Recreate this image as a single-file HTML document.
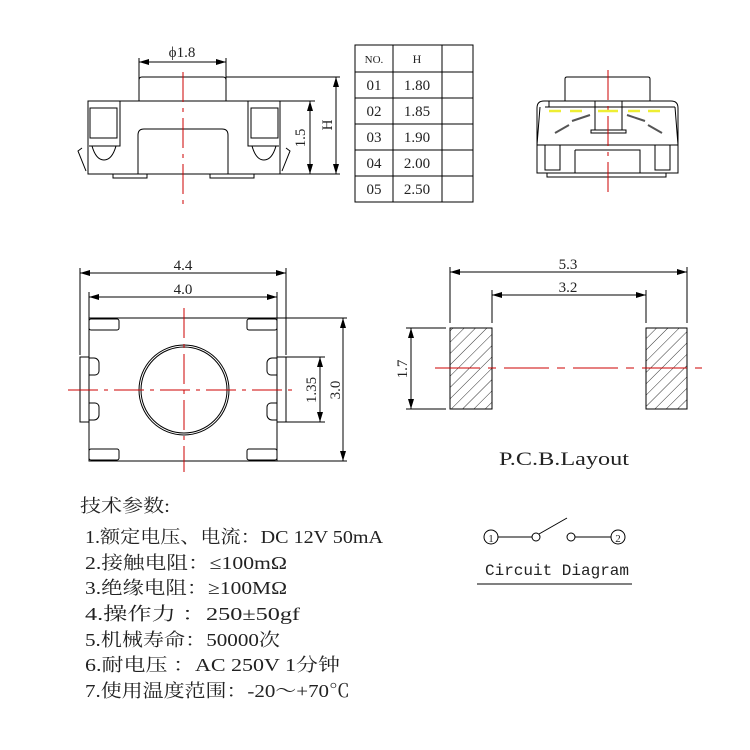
<!DOCTYPE html>
<html><head><meta charset="utf-8"><style>
html,body{margin:0;padding:0;background:#fff}
svg{display:block}
text{font-family:"Liberation Serif","Noto Serif CJK SC",serif;fill:#222}
.m{font-family:"Liberation Mono","Noto Serif CJK SC",monospace}
.c{font-family:"Liberation Sans","Noto Sans CJK SC",sans-serif}
</style></head><body>
<svg width="750" height="750" viewBox="0 0 750 750" xmlns="http://www.w3.org/2000/svg">
<defs>
<marker id="a" viewBox="0 0 10 6" refX="10" refY="3" markerWidth="10" markerHeight="6" orient="auto-start-reverse" markerUnits="userSpaceOnUse"><path d="M0,0L10,3L0,6z" fill="#000"/></marker>
<pattern id="h" patternUnits="userSpaceOnUse" width="8" height="8" patternTransform="rotate(45)"><line x1="0" y1="0" x2="0" y2="8" stroke="#000" stroke-width="0.8"/></pattern>
</defs>
<g fill="none" stroke="#000" stroke-width="1">
<path d="M139,101V80q0,-3 3,-3H223q3,0 3,3V101"/>
<rect x="88" y="101" width="192" height="73"/>
<path d="M120,101V146H89M248,101V146H279"/>
<rect x="90" y="108" width="27" height="30"/><rect x="251" y="108" width="27" height="30"/>
<path d="M138,174V135q0,-6 6,-6H222q6,0 6,6V174"/>
<path d="M92,146q4,14 12,14q8,0 12,-14M252,146q4,14 12,14q8,0 12,-14"/>
<path d="M82,148l-4,3l8,20M286,148l4,3l-8,20"/>
<rect x="113" y="174" width="34" height="4"/><rect x="210" y="174" width="44" height="4"/>
<line x1="139" y1="62" x2="226" y2="62" marker-start="url(#a)" marker-end="url(#a)"/>
<line x1="139" y1="58" x2="139" y2="80"/><line x1="226" y1="58" x2="226" y2="80"/>
<line x1="226" y1="77" x2="340" y2="77"/><line x1="280" y1="101" x2="315" y2="101"/><line x1="255" y1="174" x2="340" y2="174"/>
<line x1="310" y1="101" x2="310" y2="174" marker-start="url(#a)" marker-end="url(#a)"/>
<line x1="336" y1="77" x2="336" y2="174" marker-start="url(#a)" marker-end="url(#a)"/>
<rect x="355" y="45" width="118" height="157"/>
<path d="M393,45V202M442,45V202M355,72H473M355,98H473M355,124H473M355,150H473M355,176H473"/>
<path d="M565,101V79q0,-2 2,-2H648q2,0 2,2V101"/>
<path d="M537,173V108q0,-7 7,-7H671q7,0 7,7V173Z"/>
<path d="M549,101V107H675M545,107H549M595,101V107M622,101V107"/>
<rect x="595" y="101" width="27" height="29"/><rect x="591" y="130" width="35" height="3"/>
<path d="M540,107L537,145M675,107L678,145M537,145H678"/>
<path d="M545,145V170H560V145M670,145V170H655V145M575,150H640V173"/><path d="M575,150V173"/>
<path d="M547,173V177H666V173"/>
<path d="M555,133l14,-8M572,121l18,-6M662,133l-14,-8M645,121l-18,-6" stroke="#555" stroke-width="2"/>
<rect x="89" y="318" width="188" height="143"/>
<circle cx="184" cy="390" r="45"/><circle cx="184" cy="390" r="43"/>
<rect x="89" y="319" width="30" height="11" rx="2"/><rect x="247" y="319" width="30" height="11" rx="2"/>
<rect x="89" y="449" width="30" height="11" rx="2"/><rect x="247" y="449" width="30" height="11" rx="2"/>
<rect x="80" y="357" width="9" height="65"/><rect x="277" y="357" width="9" height="65"/>
<path d="M89,358h5a5,5 0 0 1 5,5v8a4,4 0 0 1 -4,4h-6M89,403h6a4,4 0 0 1 4,4v8a5,5 0 0 1 -5,5h-5"/>
<path d="M277,358h-5a5,5 0 0 0 -5,5v8a4,4 0 0 0 4,4h6M277,403h-6a4,4 0 0 0 -4,4v8a5,5 0 0 0 5,5h5"/>
<line x1="80" y1="273" x2="286" y2="273" marker-start="url(#a)" marker-end="url(#a)"/>
<line x1="89" y1="297" x2="277" y2="297" marker-start="url(#a)" marker-end="url(#a)"/>
<path d="M80,268V355M286,268V355M89,292V318M277,292V318"/>
<path d="M277,318H347M277,461H347M286,357H325M286,422H325"/>
<line x1="343" y1="318" x2="343" y2="461" marker-start="url(#a)" marker-end="url(#a)"/>
<line x1="320" y1="357" x2="320" y2="422" marker-start="url(#a)" marker-end="url(#a)"/>
<rect x="450" y="328" width="42" height="81" fill="url(#h)"/>
<rect x="646" y="328" width="41" height="81" fill="url(#h)"/>
<path d="M450,267V323M687,267V323M492,290V323M646,290V323M406,328H446M406,409H446"/>
<line x1="450" y1="272" x2="687" y2="272" marker-start="url(#a)" marker-end="url(#a)"/>
<line x1="492" y1="295" x2="646" y2="295" marker-start="url(#a)" marker-end="url(#a)"/>
<line x1="411" y1="328" x2="411" y2="409" marker-start="url(#a)" marker-end="url(#a)"/>
<circle cx="491" cy="537" r="7"/><circle cx="618" cy="537" r="7"/>
<circle cx="536" cy="537" r="4"/><circle cx="571" cy="537" r="4"/>
<path d="M498,537H532M575,537H611M539,534L567,518M477,584H632"/>
</g>
<g stroke="#c00" stroke-width="1" fill="none">
<line x1="183" y1="72" x2="183" y2="205" stroke-dasharray="30,6,4,6"/>
<line x1="608" y1="70" x2="608" y2="195" stroke-dasharray="30,6,4,6"/>
<line x1="184" y1="308" x2="184" y2="472" stroke-dasharray="30,6,4,6"/>
<line x1="68" y1="390" x2="298" y2="390" stroke-dasharray="30,6,4,6"/>
<line x1="435" y1="368" x2="702" y2="368" stroke-dasharray="45,8,8,8"/>
</g>
<g stroke="#ee3" stroke-width="2.5"><path d="M549,111h12M570,111h12M598,111h20M628,111h12M648,111h12"/></g>
<g font-size="15">
<text x="182" y="57" text-anchor="middle">ϕ1.8</text>
<text x="374" y="63" text-anchor="middle" font-size="11">NO.</text>
<text x="417" y="63" text-anchor="middle" font-size="12">H</text>
<text x="374" y="90" text-anchor="middle">01</text><text x="417" y="90" text-anchor="middle">1.80</text>
<text x="374" y="116" text-anchor="middle">02</text><text x="417" y="116" text-anchor="middle">1.85</text>
<text x="374" y="142" text-anchor="middle">03</text><text x="417" y="142" text-anchor="middle">1.90</text>
<text x="374" y="168" text-anchor="middle">04</text><text x="417" y="168" text-anchor="middle">2.00</text>
<text x="374" y="194" text-anchor="middle">05</text><text x="417" y="194" text-anchor="middle">2.50</text>
<text transform="translate(305,138) rotate(-90)" text-anchor="middle">1.5</text>
<text transform="translate(332,125) rotate(-90)" text-anchor="middle">H</text>
<text x="183" y="270" text-anchor="middle">4.4</text>
<text x="183" y="294" text-anchor="middle">4.0</text>
<text transform="translate(316,390) rotate(-90)" text-anchor="middle">1.35</text>
<text transform="translate(340,390) rotate(-90)" text-anchor="middle">3.0</text>
<text x="568" y="269" text-anchor="middle">5.3</text>
<text x="568" y="292" text-anchor="middle">3.2</text>
<text transform="translate(407,369) rotate(-90)" text-anchor="middle">1.7</text>
<text x="564" y="465" text-anchor="middle" font-size="19" textLength="130" lengthAdjust="spacingAndGlyphs">P.C.B.Layout</text>
<text x="491" y="542" text-anchor="middle" font-size="11">1</text>
<text x="618" y="542" text-anchor="middle" font-size="11">2</text>
<text x="557" y="575" text-anchor="middle" font-size="16" class="m" textLength="144" lengthAdjust="spacingAndGlyphs">Circuit Diagram</text>
</g>
<g font-size="18" class="m">
<text x="80" y="512" textLength="90" lengthAdjust="spacingAndGlyphs">技术参数:</text>
<text x="85" y="543" textLength="298" lengthAdjust="spacingAndGlyphs">1.额定电压、电流：DC 12V 50mA</text>
<text x="85" y="569" textLength="202" lengthAdjust="spacingAndGlyphs">2.接触电阻：≤100mΩ</text>
<text x="85" y="594" textLength="202" lengthAdjust="spacingAndGlyphs">3.绝缘电阻：≥100MΩ</text>
<text x="85" y="620" textLength="215" lengthAdjust="spacingAndGlyphs">4.操作力  ：250±50gf</text>
<text x="85" y="646" textLength="195" lengthAdjust="spacingAndGlyphs">5.机械寿命：50000次</text>
<text x="85" y="671" textLength="255" lengthAdjust="spacingAndGlyphs">6.耐电压  ：AC 250V 1分钟</text>
<text x="85" y="697" textLength="265" lengthAdjust="spacingAndGlyphs">7.使用温度范围：-20～+70℃</text>
</g>
</svg>
</body></html>
